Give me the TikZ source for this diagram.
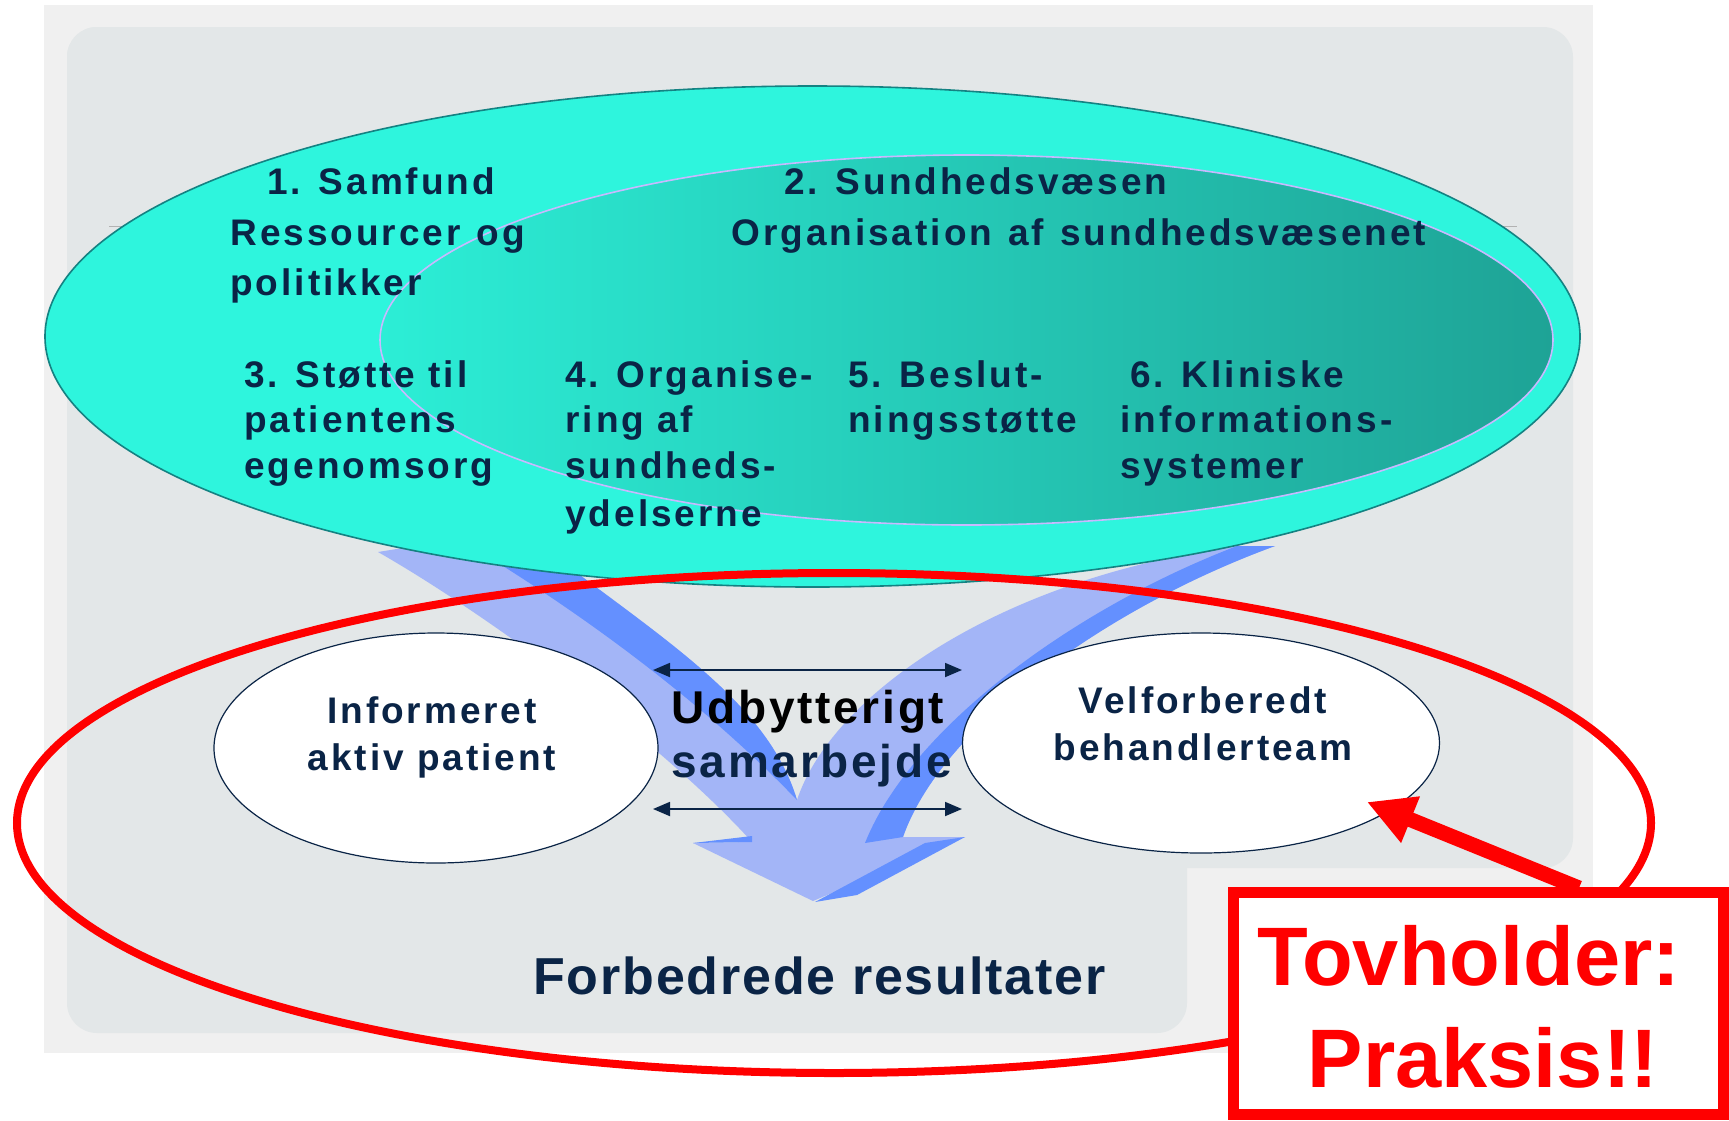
\documentclass[tikz,border=0pt]{standalone}
\usepackage{fontspec}
\setmainfont{Liberation Sans}
\newfontfamily\lblfont[LetterSpace=8]{Liberation Sans}
\newfontfamily\midfont[LetterSpace=6]{Liberation Sans}
\newfontfamily\resfont[LetterSpace=3.5]{Liberation Sans}
\newfontfamily\tovfont{Liberation Sans}
\usetikzlibrary{arrows.meta,shapes.geometric}
\definecolor{bgout}{RGB}{240,240,240}
\definecolor{bgin}{RGB}{227,231,232}
\definecolor{cyanA}{RGB}{46,245,221}
\definecolor{cyanB}{RGB}{44,238,214}
\definecolor{tealB}{RGB}{30,163,150}
\definecolor{lblue}{RGB}{163,181,247}
\definecolor{dblue}{RGB}{100,144,255}
\definecolor{navy}{RGB}{10,36,70}
\definecolor{lav}{RGB}{200,185,255}
\definecolor{tealline}{RGB}{20,130,130}
\definecolor{pureRed}{RGB}{255,0,0}
\newcommand{\wsp}{\hskip 8pt\relax}
\tikzset{
  lbl/.style={inner sep=0pt, anchor=base west, text=navy, font={\lblfont\bfseries\fontsize{18.5pt}{22pt}\selectfont}},
  elbl/.style={inner sep=0pt, anchor=base, text=navy, font={\lblfont\bfseries\fontsize{18.5pt}{22pt}\selectfont}},
  midlbl/.style={inner sep=0pt, anchor=base west, font={\midfont\bfseries\fontsize{23pt}{27pt}\selectfont}},
  reslbl/.style={inner sep=0pt, anchor=base west, text=navy, font={\resfont\bfseries\fontsize{26pt}{30pt}\selectfont}},
  tovlbl/.style={inner sep=0pt, anchor=base, text=pureRed, font={\tovfont\bfseries\fontsize{41.5pt}{48pt}\selectfont}},
  wellipse/.style={ellipse, draw=navy, line width=0.6pt, fill=white, inner sep=0pt},
  dblarrow/.style={draw=navy, line width=0.9pt, {Triangle[length=8.5pt,width=7pt]}-{Triangle[length=8.5pt,width=7pt]}},
  tovbox/.style={rectangle, draw=pureRed, line width=5.5pt, fill=white, inner sep=0pt, minimum width=245pt, minimum height=111pt},
}
\begin{document}
\begin{tikzpicture}[x=0.5pt,y=-0.5pt]
\useasboundingbox (0,0) rectangle (1729,1120);
\fill[white] (0,0) rectangle (1729,1120);
% backgrounds
\fill[bgout] (44,5) rectangle (1593,1053);
\fill[bgin, rounded corners=15pt] (67,27) rectangle (1573,868);
\fill[bgin, rounded corners=15pt] (67,27) rectangle (1187,1033);
\draw[gray!60, line width=0.5pt] (109,226) -- (1517,226);
% blue V arrow
\fill[lblue] (378,552) -- (440,542) -- (580,556) -- (569,567)
  .. controls (680,650) and (770,710) .. (797,800)
  .. controls (830,700) and (990,580) .. (1237,546)
  -- (1275,546)
  .. controls (1100,610) and (940,730) .. (903,837)
  -- (965,837) -- (813,901) -- (693,843) -- (752,842)
  .. controls (660,740) and (480,610) .. (378,552) -- cycle;
\fill[dblue] (498,556) -- (580,556) -- (569,567)
  .. controls (680,650) and (770,710) .. (797,800)
  .. controls (720,720) and (620,640) .. (503,566) -- cycle;
\fill[dblue] (1237,546) -- (1275,546)
  .. controls (1100,610) and (940,730) .. (903,837)
  -- (865,843)
  .. controls (910,730) and (1070,610) .. (1237,546) -- cycle;
\fill[dblue] (925,843) -- (965,837) -- (857,895) -- (815,902) -- cycle;
\fill[dblue] (693,843) -- (752,842) -- (752,836) -- cycle;
% top ellipses
\filldraw[fill=cyanA, draw=tealline, line width=0.8pt] (812.5,336.5) ellipse [x radius=767.5, y radius=250.5];
\shade[left color=cyanB, right color=tealB] (966.5,340) ellipse [x radius=586.5, y radius=185];
\draw[lav, line width=0.8pt] (966.5,340) ellipse [x radius=586.5, y radius=185];
% top texts
\node[lbl] (t1a) at (267,194) {1. Samfund};
\node[lbl] (t1b) at (230,245) {Ressourcer\wsp og};
\node[lbl] (t1c) at (230,295) {politikker};
\node[lbl] (t2a) at (784,194) {2. Sundhedsvæsen};
\node[lbl] (t2b) at (731,245) {Organisation\wsp af\wsp sundhedsvæsenet};
\node[lbl] (t3a) at (244,387) {3. Støtte til};
\node[lbl] (t3b) at (244,432) {patientens};
\node[lbl] (t3c) at (244,478) {egenomsorg};
\node[lbl] (t4a) at (565,387) {4. Organise-};
\node[lbl] (t4b) at (565,432) {ring af};
\node[lbl] (t4c) at (565,478) {sundheds-};
\node[lbl] (t4d) at (565,526) {ydelserne};
\node[lbl] (t5a) at (848,387) {5. Beslut-};
\node[lbl] (t5b) at (848,432) {ningsstøtte};
\node[lbl] (t6a) at (1130,387) {6. Kliniske};
\node[lbl] (t6b) at (1120,432) {informations-};
\node[lbl] (t6c) at (1120,478) {systemer};
% red ellipse
\draw[pureRed, line width=4pt] (834,823) ellipse [x radius=817, y radius=250];
% white ellipses
\node[wellipse, minimum width=222pt, minimum height=115pt] (pat) at (436,748) {};
\node[wellipse, minimum width=238.5pt, minimum height=110pt] (team) at (1201,743) {};
\node[elbl] (pat1) at (432,723) {Informeret};
\node[elbl] (pat2) at (432,770) {aktiv patient};
\node[elbl] (team1) at (1203,713) {Velforberedt};
\node[elbl] (team2) at (1203,760) {behandlerteam};
% collaboration
\node[midlbl, text=black] (ud1) at (671,723) {Udbytterigt};
\node[midlbl, text=navy] (ud2) at (671,777) {samarbejde};
\coordinate (a1l) at (653,670); \coordinate (a1r) at (962,670);
\coordinate (a2l) at (653,809); \coordinate (a2r) at (962,809);
\draw[dblarrow] (a1l) -- (a1r);
\draw[dblarrow] (a2l) -- (a2r);
\node[reslbl] (res) at (533,994) {Forbedrede resultater};
% Tovholder box
\node[tovbox] (tov) at (1478,1003) {};
\node[tovlbl] (tov1) at (1469,985) {Tovholder:};
\node[tovlbl] (tov2) at (1483,1087) {Praksis!!};
\coordinate (rs) at (1579,888);
\coordinate (rt) at (1367,802);
\draw[pureRed, line width=7.5pt, -{Triangle[length=23.5pt,width=23.5pt]}] (rs) -- (rt);
\end{tikzpicture}
\end{document}
